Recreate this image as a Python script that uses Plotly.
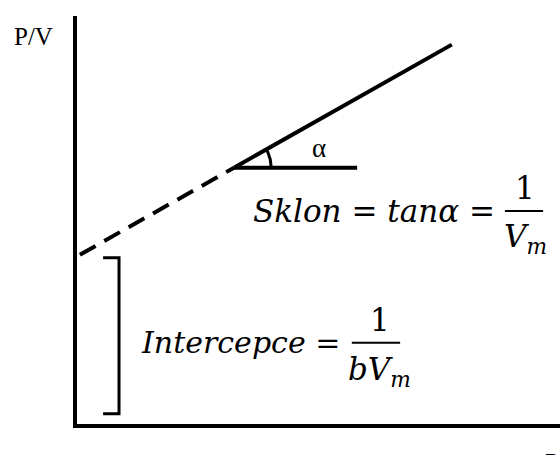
import numpy as np
import plotly.graph_objects as go

# BET-style linear plot: P/V versus P
intercept = 3.47          # value of P/V at P = 0
slope = 0.565             # tan(alpha)
x_extrapolated = [0.06, 3.25]   # dashed extrapolation toward the axis
x_measured = [3.25, 7.76]       # solid measured segment
x_reference = [3.25, 5.8]       # horizontal reference for the angle
bracket_x = [0.54, 0.87, 0.87, 0.54]
bracket_y = [3.44, 3.44, 0.21, 0.21]

y_extrapolated = [intercept + slope * x for x in x_extrapolated]
y_measured = [intercept + slope * x for x in x_measured]
y_ref = y_measured[0]
y_reference = [y_ref, y_ref]

alpha = np.arctan(slope)
theta = np.linspace(0, alpha, 30)
arc_r = 0.77
arc_x = x_measured[0] + arc_r * np.cos(theta)
arc_y = y_ref + arc_r * np.sin(theta)

black = "#000000"
fig = go.Figure()
fig.add_trace(go.Scatter(x=x_extrapolated, y=y_extrapolated, mode="lines",
                         line=dict(color=black, width=4, dash="18px,10px")))
fig.add_trace(go.Scatter(x=x_measured, y=y_measured, mode="lines",
                         line=dict(color=black, width=4)))
fig.add_trace(go.Scatter(x=x_reference, y=y_reference, mode="lines",
                         line=dict(color=black, width=4)))
fig.add_trace(go.Scatter(x=arc_x, y=arc_y, mode="lines",
                         line=dict(color=black, width=3)))
fig.add_trace(go.Scatter(x=bracket_x, y=bracket_y, mode="lines",
                         line=dict(color=black, width=3)))

serif = "Liberation Serif"
math = "DejaVu Serif"
eq_size = 31
ann = []
# axis titles placed in paper coordinates (outside the plotting area)
ann.append(dict(xref="paper", yref="paper", x=-65 / 483, y=(424 - 21) / 408,
                text="P/V", xanchor="left",
                font=dict(family=serif, size=25, color=black)))
ann.append(dict(xref="paper", yref="paper", x=(543 - 77) / 483, y=-23 / 408,
                text="P", xanchor="left", yanchor="top",
                font=dict(family=serif, size=25, color=black)))
ann.append(dict(x=5.01, y=5.71, text="α", font=dict(family=serif, size=27, color=black)))
ann.append(dict(x=3.6, y=4.41, text="<i>Sklon</i> = <i>tanα</i> =", xanchor="left",
                font=dict(family=math, size=eq_size, color=black)))
ann.append(dict(x=9.28, y=4.89, text="1", font=dict(family=math, size=eq_size, color=black)))
ann.append(dict(x=9.28, y=3.85, text="<i>V</i><sub><i>m</i></sub>",
                font=dict(family=math, size=eq_size, color=black)))
ann.append(dict(x=1.28, y=1.68, text="<i>Intercepce</i> =", xanchor="left",
                font=dict(family=math, size=30, color=black)))
ann.append(dict(x=6.27, y=2.15, text="1", font=dict(family=math, size=eq_size, color=black)))
ann.append(dict(x=6.27, y=1.08, text="<i>bV</i><sub><i>m</i></sub>",
                font=dict(family=math, size=eq_size, color=black)))
for a in ann:
    a.setdefault("xref", "x")
    a.setdefault("yref", "y")
    a["showarrow"] = False

shapes = [
    dict(type="line", xref="x", yref="y", x0=8.86, x1=9.65, y0=4.41, y1=4.41,
         line=dict(color=black, width=2)),
    dict(type="line", xref="x", yref="y", x0=5.69, x1=6.69, y0=1.68, y1=1.68,
         line=dict(color=black, width=2)),
]

fig.update_layout(
    width=560, height=455,
    margin=dict(l=77, r=0, t=16, b=31),
    paper_bgcolor="white", plot_bgcolor="white",
    showlegend=False,
    annotations=ann, shapes=shapes,
    xaxis=dict(range=[0, 10], showline=True, linecolor=black, linewidth=4,
               showgrid=False, zeroline=False, showticklabels=False, ticks=""),
    yaxis=dict(range=[0, 408 / 48.3], showline=True, linecolor=black, linewidth=4,
               showgrid=False, zeroline=False, showticklabels=False, ticks=""),
)
fig.write_html("out.html")
